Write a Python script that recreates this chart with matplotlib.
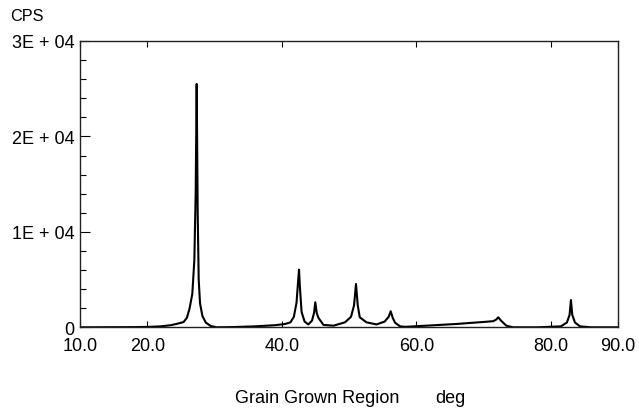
import numpy as np
import matplotlib
matplotlib.use("Agg")
import matplotlib.pyplot as plt
from matplotlib.ticker import MultipleLocator

plt.rcParams['font.family'] = ['Liberation Sans', 'DejaVu Sans']

# diffraction scan (2theta in deg, counts per second)
two_theta = [10.0, 14.0, 18.0, 20.0, 22.0, 23.5, 24.5, 25.4, 25.9, 26.3, 26.7,
             27.0, 27.2, 27.35, 27.5, 27.65, 27.85, 28.2, 28.7, 29.4, 30.3,
             33.0, 36.0, 39.0, 40.5, 41.3, 41.8, 42.2, 42.45, 42.57, 42.7,
             42.95, 43.4, 43.95, 44.5, 44.8, 44.99, 45.2, 45.45, 46.2, 47.7,
             49.4, 50.3, 50.75, 51.04, 51.3, 51.6, 52.6, 54.1, 55.3, 55.9,
             56.2, 56.5, 56.85, 57.6, 58.4, 62.0, 66.0, 70.0, 71.45, 71.9,
             72.2, 72.6, 73.4, 74.4, 78.0, 81.5, 82.4, 82.8, 83.0, 83.2,
             83.6, 84.35, 86.0, 90.0]
cps = [0, 10, 20, 40, 100, 220, 380, 550, 1000, 2000, 3500,
       7000, 14000, 25500, 12000, 5000, 2500, 1200, 500, 150, 0,
       30, 100, 220, 350, 520, 1100, 2600, 5000, 6040, 4200,
       1600, 600, 300, 700, 1500, 2620, 1500, 1000, 250, 170,
       520, 1100, 2300, 4540, 2300, 1050, 520, 300, 600, 1100,
       1680, 1000, 480, 100, 50, 190, 350, 560, 640, 820,
       1050, 700, 170, 0, 0, 100, 500, 1300, 2860, 1300,
       500, 100, 0, 0]

xticks = [10, 20, 40, 60, 80, 90]
xticklabels = ["10.0", "20.0", "40.0", "60.0", "80.0", "90.0"]
yticks = [0, 10000, 20000, 30000]
yticklabels = ["0", "1E + 04", "2E + 04", "3E + 04"]

fig = plt.figure(figsize=(6.39, 4.10), dpi=100)
ax = fig.add_axes([80/639, 1-328.3/410, 538/639, (328.3-42)/410])

ax.plot(two_theta, cps, color="black", lw=1.5, solid_joinstyle="round")

ax.set_xlim(10, 90)
ax.set_ylim(0, 30000)
ax.set_xticks(xticks)
ax.set_xticklabels(xticklabels)
ax.set_yticks(yticks)
ax.set_yticklabels(yticklabels)
ax.yaxis.set_minor_locator(MultipleLocator(2000))

ax.tick_params(axis="x", which="major", direction="in", length=4, width=0.8,
               top=True, pad=7, labelsize=13, colors="black")
ax.tick_params(axis="y", which="major", direction="in", length=7.2, width=0.8,
               pad=4, labelsize=13)
ax.tick_params(axis="y", which="minor", direction="in", length=4.3, width=0.8)
for sp in ax.spines.values():
    sp.set_linewidth(1.0)
    sp.set_color("#222222")

fig.text(10/639, 1-16.5/410, "CPS", fontsize=11.7, ha="left", va="center")
fig.text(317.5/639, 1-403.5/410, "Grain Grown Region", fontsize=13, ha="center", va="baseline")
fig.text(450/639, 1-403.5/410, "deg", fontsize=13, ha="center", va="baseline")

fig.savefig("out.png", dpi=100)
